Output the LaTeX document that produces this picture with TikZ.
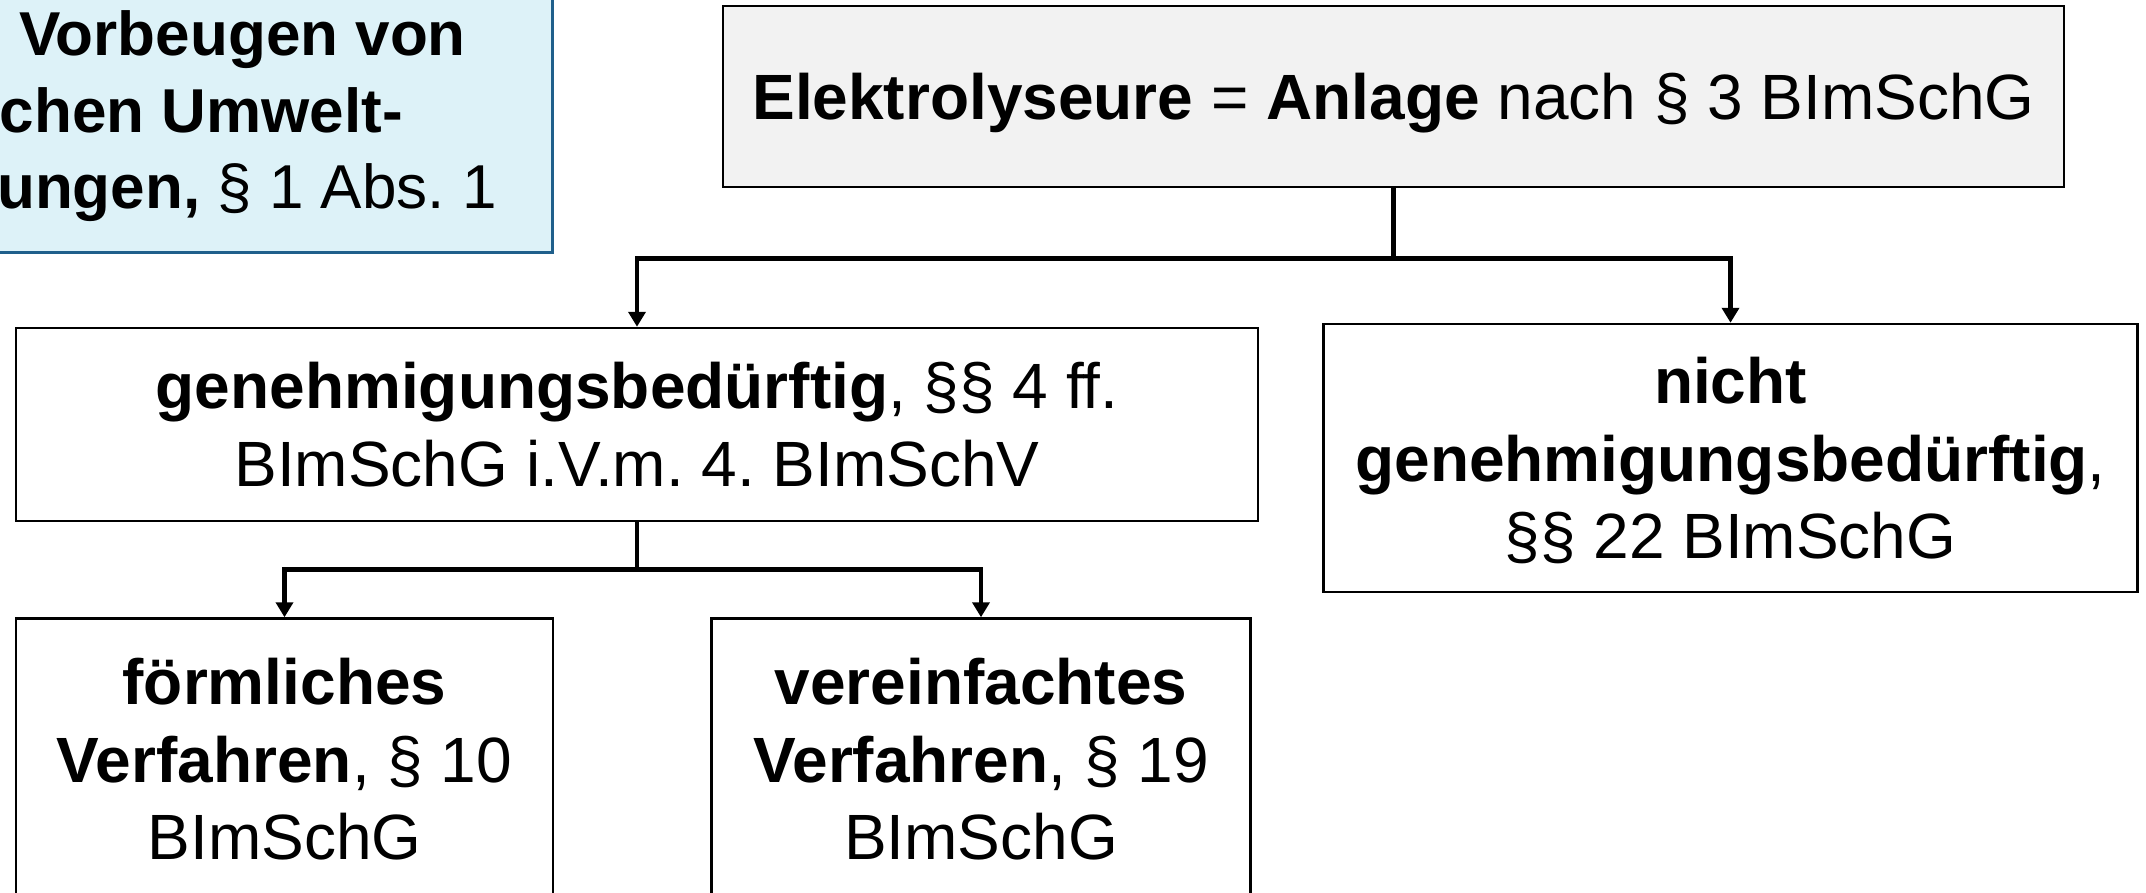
\documentclass[tikz,border=0pt]{standalone}
\usepackage{fontspec}
\setmainfont{Liberation Sans}
\usepackage{tikz}
\usetikzlibrary{arrows.meta,positioning}
\frenchspacing
\definecolor{zielfill}{HTML}{DDF2F8}
\definecolor{zieldraw}{HTML}{1F5F8B}
\definecolor{headfill}{HTML}{F2F2F2}
\tikzset{
  box/.style={draw=black, line width=2.5pt, align=center, inner sep=0pt,
              font=\fontsize{64}{77.5}\selectfont},
  head/.style={box, fill=headfill},
  ziel/.style={draw=zieldraw, fill=zielfill, line width=3pt},
  zieltext/.style={inner sep=0pt, font=\fontsize{62}{77}\selectfont},
  flow/.style={-{Triangle[length=15pt,width=17pt]}, line width=4.5pt},
}
\begin{document}
\begin{tikzpicture}[x=1pt, y=1pt]
\useasboundingbox (0,0) rectangle (2146,-892);

% ---- goal box, cut off at the left -----------------------------------
\node[ziel, anchor=south east, minimum width=700pt, minimum height=300pt]
     (ziel) at (554,-254) {};
\node[zieltext, anchor=base east] (ziel1) at (466,-55) {\textbf{Vorbeugen von}};
\node[zieltext, anchor=base east] (ziel2) at (403,-132) {\textbf{chen Umwelt-}};
\node[zieltext, anchor=base east] (ziel3) at (497,-208)
     {\textbf{ungen,} § 1 Abs. 1};

% ---- installation --------------------------------------------------
\node[head, minimum width=1341pt, minimum height=181pt, text depth=0pt]
     (anlage) at (1393.5,-96.5)
     {\textbf{Elektrolyseure} = \textbf{Anlage} nach § 3 BImSchG};

% ---- permit needed / not needed -------------------------------------
\node[box, minimum width=1242pt, minimum height=193pt] (gen) at (637,-424.5)
     {\textbf{genehmigungsbedürftig}, §§ 4 ff.\\ BImSchG i.V.m. 4. BImSchV};
\node[box, minimum width=814pt, minimum height=268pt, text depth=0pt,
      right=63pt of gen.north east, anchor=north west, yshift=4pt] (nicht)
     {\textbf{nicht}\\ \textbf{genehmigungsbedürftig},\\ §§ 22 BImSchG};

% ---- procedures ----------------------------------------------------
\node[box, minimum width=537pt, minimum height=282pt,
      below=95pt of gen.south west, anchor=north west] (form)
     {\textbf{förmliches}\\ \textbf{Verfahren}, § 10\\ BImSchG};
\node[box, minimum width=539pt, minimum height=282pt, right=156pt of form]
     (verein) {\textbf{vereinfachtes}\\ \textbf{Verfahren}, § 19\\ BImSchG};

\foreach \t in {gen,nicht} \draw[flow] (anlage.south) -- ++(0,-70) -| (\t.north);
\foreach \t in {form,verein} \draw[flow] (gen.south) -- ++(0,-47) -| (\t.north);
\end{tikzpicture}
\end{document}
